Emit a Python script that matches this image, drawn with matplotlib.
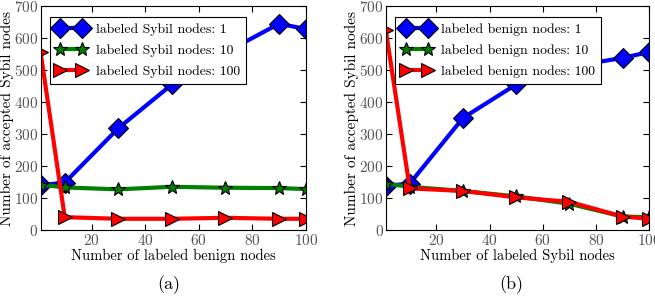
import matplotlib
matplotlib.use("Agg")
import matplotlib.pyplot as plt

plt.rcParams['font.family'] = 'serif'
plt.rcParams['font.serif'] = ['cmr10']
plt.rcParams['mathtext.fontset'] = 'cm'
plt.rcParams['axes.formatter.use_mathtext'] = True

x = [1, 10, 30, 50, 70, 90, 100]

# (a) x = labeled benign nodes
a_sybil1 = [140, 148, 318, 455, 555, 645, 628]
a_sybil10 = [142, 133, 127, 135, 132, 131, 128]
a_sybil100 = [555, 40, 35, 35, 38, 35, 35]

# (b) x = labeled Sybil nodes
b_benign1 = [138, 145, 350, 455, 510, 538, 556]
b_benign10 = [145, 135, 122, 105, 82, 42, 40]
b_benign100 = [625, 130, 122, 102, 88, 42, 35]

fig = plt.figure(figsize=(6.55, 3.03), dpi=100)
ax1 = fig.add_axes([0.062, 0.241, 0.405, 0.739])
ax2 = fig.add_axes([0.589, 0.241, 0.402, 0.739])

def panel(ax, s1, s10, s100, name, xlabel, tag, tag_x):
    ax.plot(x, s1, color='blue', lw=3, marker='D', ms=10, mec='black', mew=0.8,
            label=f'labeled {name} nodes: 1')
    ax.plot(x, s10, color='green', lw=3, marker='*', ms=10, mec='black', mew=0.8,
            label=f'labeled {name} nodes: 10')
    ax.plot(x, s100, color='red', lw=3, marker='>', ms=10, mec='black', mew=0.8,
            label=f'labeled {name} nodes: 100')
    ax.set_xlim(1, 100)
    ax.set_ylim(0, 700)
    ax.set_xticks([20, 40, 60, 80, 100])
    ax.set_yticks(range(0, 701, 100))
    ax.tick_params(direction='in', top=True, right=True, labelsize=11,
                   labelcolor='#555555', length=4)
    ax.tick_params(axis='y', pad=1.5)
    ax.tick_params(axis='x', pad=2.5)
    ax.set_xlabel(xlabel, fontsize=10.5, labelpad=0)
    ax.set_ylabel('Number of accepted Sybil nodes', fontsize=11, labelpad=0)
    leg = ax.legend(loc='upper left', fontsize=9.9, fancybox=False, numpoints=2,
                    handlelength=2.2, handletextpad=0.7, borderaxespad=0.4,
                    labelspacing=0.62, borderpad=0.45, framealpha=1,
                    bbox_to_anchor=(0.015, 0.975))
    leg.get_frame().set_edgecolor('black')
    leg.get_frame().set_linewidth(0.8)
    fig.text(tag_x, 0.06, tag, ha='center', va='center', fontsize=13)

panel(ax1, a_sybil1, a_sybil10, a_sybil100, 'Sybil',
      'Number of labeled benign nodes', '(a)', 0.257)
panel(ax2, b_benign1, b_benign10, b_benign100, 'benign',
      'Number of labeled Sybil nodes', '(b)', 0.78)

fig.savefig('out.png', dpi=100)
